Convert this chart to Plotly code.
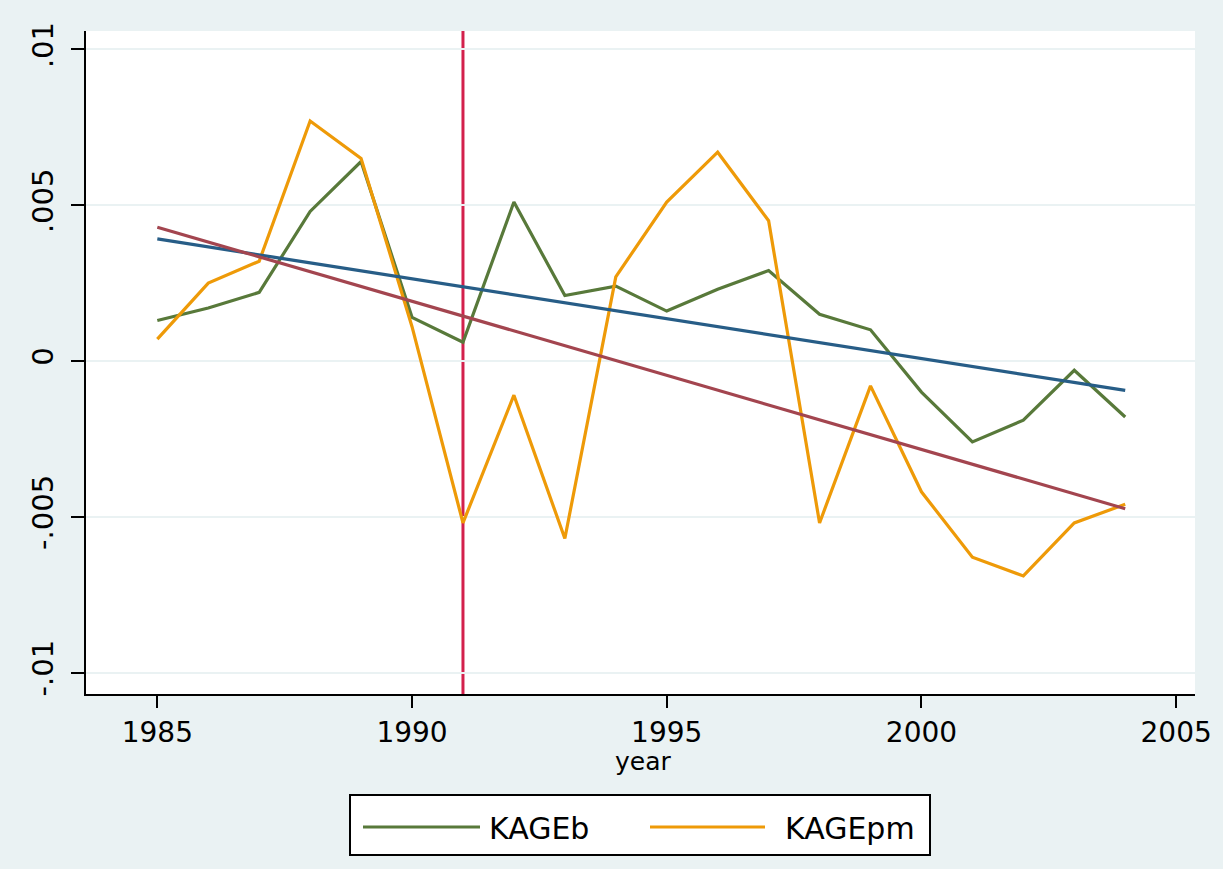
import numpy as np
import plotly.graph_objects as go

# ---- data -------------------------------------------------------------
years = list(range(1985, 2005))
kage_b = [0.0013, 0.0017, 0.0022, 0.0048, 0.0064, 0.0014, 0.0006, 0.0051,
          0.0021, 0.0024, 0.0016, 0.0023, 0.0029, 0.0015, 0.0010, -0.0010,
          -0.0026, -0.0019, -0.0003, -0.0018]
kage_pm = [0.0007, 0.0025, 0.0032, 0.0077, 0.0065, 0.0011, -0.0052, -0.0011,
           -0.0057, 0.0027, 0.0051, 0.0067, 0.0045, -0.0052, -0.0008, -0.0042,
           -0.0063, -0.0069, -0.0052, -0.0046]
break_year = 1991
y_tickvals = [-0.01, -0.005, 0, 0.005, 0.01]
y_ticktext = ["-.01", "-.005", "0", ".005", ".01"]
x_tickvals = [1985, 1990, 1995, 2000, 2005]
legend_names = ["KAGEb", "KAGEpm"]
x_title = "year"

# ---- styling ----------------------------------------------------------
FONT = "DejaVu Sans"
C_GREEN = "#58793A"
C_ORANGE = "#EE9A08"
C_BLUE = "#275D87"
C_RED = "#A3454F"
C_VLINE = "#D3214C"
BG = "#EAF2F3"

W, H = 1223, 869
PL, PR, PT, PB = 86, 1195, 31, 694  # plot region in pixels


def fx(px):
    return (px - PL) / (PR - PL)


def fy(py):
    return (PB - py) / (PB - PT)


# linear fits (as in a two-way lfit overlay)
yrs = np.array(years, dtype=float)
fit_b = np.polyval(np.polyfit(yrs, kage_b, 1), yrs)
fit_pm = np.polyval(np.polyfit(yrs, kage_pm, 1), yrs)

fig = go.Figure()
fig.add_trace(go.Scatter(x=years, y=kage_b, mode="lines", name=legend_names[0],
                         line=dict(color=C_GREEN, width=3.2), showlegend=False))
fig.add_trace(go.Scatter(x=years, y=kage_pm, mode="lines", name=legend_names[1],
                         line=dict(color=C_ORANGE, width=3.2), showlegend=False))
fig.add_trace(go.Scatter(x=years, y=fit_b, mode="lines", name="Fitted values",
                         line=dict(color=C_BLUE, width=3.2), showlegend=False))
fig.add_trace(go.Scatter(x=years, y=fit_pm, mode="lines", name="Fitted values",
                         line=dict(color=C_RED, width=3.2), showlegend=False))

# vertical reference line
fig.add_shape(type="line", xref="x", yref="paper", x0=break_year, x1=break_year,
              y0=0, y1=1, line=dict(color=C_VLINE, width=3), layer="below")

# legend box drawn by hand
fig.add_shape(type="rect", xref="paper", yref="paper",
              x0=fx(350), x1=fx(930), y0=fy(855), y1=fy(795),
              line=dict(color="black", width=2), fillcolor="white")
for (xa, xb, tx, color, name) in [(363, 480, 487, C_GREEN, legend_names[0]),
                                  (650, 765, 783, C_ORANGE, legend_names[1])]:
    fig.add_shape(type="line", xref="paper", yref="paper",
                  x0=fx(xa), x1=fx(xb), y0=fy(827), y1=fy(827),
                  line=dict(color=color, width=3))
    fig.add_annotation(xref="paper", yref="paper", x=fx(tx), y=fy(828),
                       text=name, showarrow=False, xanchor="left",
                       yanchor="middle", font=dict(family=FONT, size=30, color="black"))

# x-axis title
fig.add_annotation(xref="paper", yref="paper", x=fx(643), y=fy(761),
                   text=x_title, showarrow=False, xanchor="center", yanchor="middle",
                   font=dict(family=FONT, size=25, color="black"))

fig.update_layout(
    width=W, height=H,
    margin=dict(l=PL, r=W - PR, t=PT, b=H - PB),
    paper_bgcolor=BG, plot_bgcolor="white",
    font=dict(family=FONT, color="black"),
    showlegend=False,
)
fig.update_xaxes(
    range=[1983.6, 2005.37], tickvals=x_tickvals,
    ticks="outside", ticklen=12, tickwidth=2, tickcolor="black",
    showline=True, linewidth=2, linecolor="black", showgrid=False, zeroline=False,
    tickfont=dict(family=FONT, size=28, color="black"),
)
fig.update_yaxes(
    range=[-0.01069, 0.01059], tickvals=y_tickvals, ticktext=y_ticktext,
    tickangle=-90,
    ticks="outside", ticklen=13, tickwidth=2, tickcolor="black",
    showline=True, linewidth=2, linecolor="black",
    showgrid=True, gridcolor=BG, gridwidth=2, zeroline=False,
    tickfont=dict(family=FONT, size=29, color="black"),
    ticklabelstandoff=6,
)

fig.write_html("out.html")
